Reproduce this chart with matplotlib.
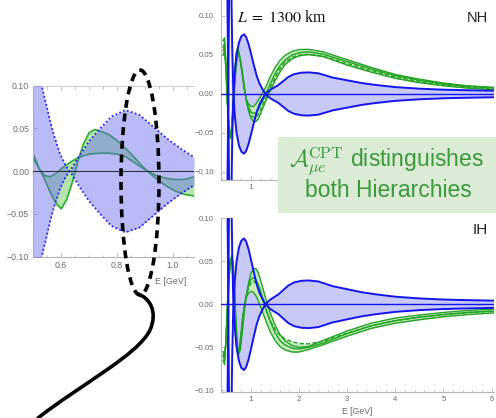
import numpy as np
import matplotlib
matplotlib.use("Agg")
import matplotlib.pyplot as plt
from matplotlib.patches import Ellipse, Rectangle, PathPatch
from matplotlib.path import Path
from matplotlib.ticker import FixedLocator, FixedFormatter, MultipleLocator

plt.rcParams['font.family'] = ['Liberation Sans', 'DejaVu Sans']

# ---------------- data ----------------
# main panels: blue envelope (same in NH and IH)
E_blue = [0.40, 0.46, 0.50, 0.52, 0.535, 0.55, 0.565, 0.58, 0.595, 0.61, 0.63, 0.66,
          0.70, 0.75, 0.80, 0.855, 0.90, 0.95, 1.00, 1.06, 1.12, 1.18, 1.25, 1.30,
          1.40, 1.50, 1.57, 1.68, 1.78, 1.90, 2.05, 2.20, 2.40, 2.70, 3.00, 3.30,
          3.60, 4.00, 4.50, 5.00, 5.50, 6.05]
blue_env = [0.25, 0.30, 0.18, 0.06, -0.05, -0.16, -0.22, -0.20, -0.12, -0.06, -0.01, 0.025,
            0.050, 0.066, 0.074, 0.0765, 0.073, 0.064, 0.052, 0.037, 0.023, 0.013, 0.005, 0.0,
            -0.0055, -0.009, -0.0115, -0.017, -0.022, -0.0255, -0.0273, -0.0277, -0.0265, -0.021, -0.0175, -0.014,
            -0.0115, -0.0088, -0.0068, -0.0055, -0.0048, -0.0042]

# main panels: green curves
E_green = [0.42, 0.45, 0.48, 0.51, 0.54, 0.57, 0.60, 0.63, 0.66, 0.69, 0.72, 0.75, 0.78,
           0.82, 0.86, 0.90, 0.95, 1.00, 1.05, 1.10, 1.15, 1.20, 1.26, 1.32, 1.40, 1.50,
           1.60, 1.70, 1.85, 2.00, 2.20, 2.50, 3.00, 3.50, 4.00, 4.50, 5.00, 5.50, 6.05]

nh_hi = [0.068, 0.072, 0.040, -0.008, -0.042, -0.054, -0.040, -0.008, 0.028, 0.052, 0.0585, 0.054, 0.042,
         0.024, 0.006, -0.006, -0.013, -0.016, -0.016, -0.013, -0.008, -0.003, 0.003, 0.011, 0.022, 0.034,
         0.043, 0.049, 0.0545, 0.057, 0.0572, 0.054, 0.044, 0.034, 0.025, 0.019, 0.014, 0.0105, 0.0085]
nh_mid = [0.060, 0.065, 0.036, -0.010, -0.044, -0.056, -0.045, -0.016, 0.018, 0.044, 0.054, 0.052, 0.043,
          0.026, 0.008, -0.007, -0.017, -0.023, -0.025, -0.024, -0.020, -0.014, -0.006, 0.002, 0.013, 0.026,
          0.036, 0.043, 0.050, 0.053, 0.054, 0.051, 0.0415, 0.032, 0.0235, 0.0175, 0.013, 0.0098, 0.0076]
nh_lo = [0.050, 0.055, 0.030, -0.012, -0.045, -0.057, -0.050, -0.025, 0.008, 0.035, 0.048, 0.050, 0.044,
         0.028, 0.010, -0.008, -0.022, -0.031, -0.035, -0.0355, -0.032, -0.025, -0.016, -0.007, 0.004, 0.017,
         0.028, 0.037, 0.045, 0.049, 0.0505, 0.048, 0.037, 0.028, 0.020, 0.0145, 0.0105, 0.0075, 0.0055]
nh_dash = [0.055, 0.060, 0.033, -0.011, -0.044, -0.056, -0.047, -0.020, 0.013, 0.040, 0.051, 0.051, 0.043,
           0.027, 0.009, -0.008, -0.019, -0.027, -0.030, -0.030, -0.026, -0.020, -0.011, -0.003, 0.008, 0.021,
           0.032, 0.040, 0.047, 0.050, 0.051, 0.0485, 0.039, 0.030, 0.0218, 0.016, 0.0118, 0.0088, 0.0066]

ih_hi = [-0.055, -0.060, -0.045, -0.010, 0.025, 0.048, 0.057, 0.048, 0.020, -0.020, -0.048, -0.058, -0.052,
         -0.032, -0.010, 0.008, 0.025, 0.036, 0.041, 0.0415, 0.037, 0.028, 0.016, 0.004, -0.010, -0.024,
         -0.035, -0.042, -0.048, -0.050, -0.049, -0.042, -0.031, -0.022, -0.016, -0.0125, -0.0095, -0.0072, -0.0055]
ih_mid = [-0.060, -0.065, -0.043, -0.005, 0.030, 0.050, 0.055, 0.040, 0.008, -0.030, -0.053, -0.057, -0.046,
          -0.024, -0.005, 0.010, 0.022, 0.029, 0.031, 0.029, 0.023, 0.015, 0.004, -0.007, -0.020, -0.033,
          -0.042, -0.047, -0.051, -0.052, -0.050, -0.045, -0.034, -0.025, -0.019, -0.015, -0.012, -0.0095, -0.0078]
ih_lo = [-0.065, -0.070, -0.040, 0.000, 0.035, 0.052, 0.050, 0.028, -0.008, -0.042, -0.057, -0.055, -0.040,
         -0.018, -0.002, 0.008, 0.013, 0.015, 0.014, 0.010, 0.004, -0.003, -0.012, -0.021, -0.032, -0.042,
         -0.049, -0.053, -0.0555, -0.0555, -0.0525, -0.047, -0.037, -0.028, -0.022, -0.018, -0.0145, -0.012, -0.010]
ih_dash = [-0.058, -0.063, -0.042, -0.004, 0.030, 0.050, 0.054, 0.038, 0.005, -0.032, -0.054, -0.056, -0.044,
           -0.022, -0.004, 0.009, 0.019, 0.025, 0.027, 0.025, 0.020, 0.012, 0.002, -0.008, -0.019, -0.029,
           -0.036, -0.040, -0.0435, -0.0455, -0.046, -0.043, -0.0335, -0.025, -0.019, -0.015, -0.012, -0.0097, -0.008]

# inset (zoom) panel
E_in_b = [0.50, 0.515, 0.53, 0.545, 0.56, 0.575, 0.595, 0.615, 0.635, 0.665, 0.70, 0.74, 0.78,
          0.83, 0.88, 0.93, 0.98, 1.03, 1.076]
in_blue = [0.140, 0.118, 0.100, 0.080, 0.059, 0.041, 0.021, 0.007, -0.002, -0.018, -0.035, -0.050, -0.064,
           -0.0715, -0.066, -0.052, -0.038, -0.026, -0.0164]
E_in_g = [0.50, 0.52, 0.54, 0.56, 0.58, 0.60, 0.62, 0.64, 0.66, 0.68, 0.70, 0.72, 0.74, 0.77,
          0.80, 0.83, 0.86, 0.89, 0.92, 0.95, 0.98, 1.01, 1.04, 1.076]
in_g1 = [0.020, 0.004, -0.009, -0.024, -0.037, -0.044, -0.033, -0.013, 0.012, 0.032, 0.045, 0.0487, 0.047, 0.043,
         0.036, 0.027, 0.017, 0.006, -0.003, -0.0115, -0.018, -0.0235, -0.027, -0.029]
in_g2 = [0.015, 0.003, -0.005, -0.0065, -0.003, 0.003, 0.0075, 0.012, 0.0155, 0.018, 0.0198, 0.0207, 0.021, 0.021,
         0.020, 0.017, 0.0105, 0.004, -0.002, -0.006, -0.0085, -0.0097, -0.0097, -0.0068]

main_yticks = [-0.10, -0.05, 0.00, 0.05, 0.10]
main_yticklabels = ['\u22120.10', '\u22120.05', '0.00', '0.05', '0.10']
main_xticks = [1, 2, 3, 4, 5, 6]
main_xticklabels = ['1', '2', '3', '4', '5', '6']
in_xticks = [0.6, 0.8, 1.0]
in_xticklabels = ['0.6', '0.8', '1.0']

# ---------------- figure ----------------
W, H = 496, 418
fig = plt.figure(figsize=(W / 100, H / 100), dpi=100)


def ax_px(x0, y0, x1, y1):
    return fig.add_axes([x0 / W, 1 - y1 / H, (x1 - x0) / W, (y1 - y0) / H])


BLUE = '#1414ee'
GREEN = '#22a322'
SPINE = '#b5b5b5'
TICKLBL = '#6a6a6a'


def style(ax, labelsize, ypad, xpad):
    for s in ['top', 'right']:
        ax.spines[s].set_visible(False)
    for s in ['left', 'bottom']:
        ax.spines[s].set_color(SPINE)
        ax.spines[s].set_linewidth(0.8)
    ax.tick_params(which='both', direction='in', color=SPINE, labelcolor=TICKLBL,
                   labelsize=labelsize, width=0.6)
    ax.tick_params(which='major', length=3)
    ax.tick_params(which='minor', length=1.8)
    ax.tick_params(axis='y', pad=ypad)
    ax.tick_params(axis='x', pad=xpad)


def main_panel(ax, ylim, hi, mid, lo, dash, xlabels):
    ax.set_xlim(0.377, 6.05)
    ax.set_ylim(*ylim)
    ax.patch.set_alpha(0)
    be = np.array(blue_env)
    # like the original, no filling where the curve leaves the plot range
    be_in = np.where(np.abs(be) <= ylim[1], be, np.nan)
    ax.fill_between(E_blue, be_in, -be_in, color='#c9c9f9', lw=0, zorder=1)
    gs = np.array([hi, mid, lo, dash])
    ax.fill_between(E_green, gs.min(0), gs.max(0), color='#c3e9be', lw=0, zorder=2)
    for g in (hi, mid, lo):
        ax.plot(E_green, g, color=GREEN, lw=1.0, zorder=3, solid_joinstyle='round')
    ax.plot(E_green, dash, color=GREEN, lw=1.0, ls=(0, (3, 1.6)), zorder=3)
    ax.plot(E_blue, be, color=BLUE, lw=1.4, zorder=4, solid_joinstyle='round')
    ax.plot(E_blue, -be, color=BLUE, lw=1.4, zorder=4, solid_joinstyle='round')
    ax.axhline(0, color=BLUE, lw=1.0, zorder=4)
    ax.yaxis.set_major_locator(FixedLocator(main_yticks))
    ax.yaxis.set_major_formatter(FixedFormatter(main_yticklabels))
    ax.xaxis.set_major_locator(FixedLocator(main_xticks))
    ax.xaxis.set_major_formatter(FixedFormatter(xlabels))
    ax.xaxis.set_minor_locator(MultipleLocator(0.2))
    style(ax, 5.6, 5, 3)


# upper panel: only "1" is visible, the rest lies under the annotation box
ax_nh = ax_px(221, 0, 494, 180)
main_panel(ax_nh, (-0.1103, 0.1205), nh_hi, nh_mid, nh_lo, nh_dash,
           [main_xticklabels[0]] + [''] * 5)

ax_ih = ax_px(221, 218, 494, 391.5)
main_panel(ax_ih, (-0.1014, 0.1003), ih_hi, ih_mid, ih_lo, ih_dash, main_xticklabels)
ax_ih.set_xlabel('E [GeV]', fontsize=6.2, color=TICKLBL, labelpad=3)

# inset
ax_in = ax_px(33.3, 85.7, 194, 256.7)
ax_in.set_xlim(0.5, 1.076)
ax_in.set_ylim(-0.1, 0.1)
ax_in.patch.set_alpha(0)
ax_in.fill_between(E_in_g, in_g1, in_g2, color='#b4e4ac', lw=0, zorder=1)
ax_in.plot(E_in_g, in_g1, color='#2aae2a', lw=1.2, zorder=2)
ax_in.plot(E_in_g, in_g2, color='#2aae2a', lw=1.2, zorder=2)
ib = np.array(in_blue)
ax_in.fill_between(E_in_b, ib, -ib, color=(0.40, 0.40, 0.95), alpha=0.45, lw=0, zorder=3)
ax_in.plot(E_in_b, ib, color='#2323ff', lw=1.3, ls=(0, (1, 1.3)), zorder=4)
ax_in.plot(E_in_b, -ib, color='#2323ff', lw=1.3, ls=(0, (1, 1.3)), zorder=4)
ax_in.axhline(0, color='#303040', lw=0.8, zorder=5)
ax_in.yaxis.set_major_locator(FixedLocator(main_yticks))
ax_in.yaxis.set_major_formatter(FixedFormatter(main_yticklabels))
ax_in.xaxis.set_major_locator(FixedLocator(in_xticks))
ax_in.xaxis.set_major_formatter(FixedFormatter(in_xticklabels))
ax_in.xaxis.set_minor_locator(MultipleLocator(0.05))
style(ax_in, 6.3, 3, 3)
ax_in.spines['top'].set_visible(True)
ax_in.spines['top'].set_color('#d0d0d0')
ax_in.spines['top'].set_linewidth(0.8)
ax_in.tick_params(axis='x', which='both', top=True)

# overlay: annotation box, texts, magnifier
ov = fig.add_axes([0, 0, 1, 1])
ov.set_xlim(0, W)
ov.set_ylim(H, 0)
ov.axis('off')
ov.patch.set_alpha(0)

ov.add_patch(Rectangle((278, 137.3), 218, 75.7, facecolor='#dbebd6', edgecolor='none', zorder=1))
ov.text(386.5, 166.7, r'$\mathcal{A}_{\mu e}^{\rm CPT}$ distinguishes', ha='center', va='baseline',
        fontsize=16.5, color='#3a9a3a', math_fontfamily='cm', zorder=2)
ov.text(388, 196.7, 'both Hierarchies', ha='center', va='baseline', fontsize=16.5, color='#3a9a3a', zorder=2)

ov.text(237, 22, r'$L\;=\;1300$ km', ha='left', va='baseline', fontsize=11.5,
        family='Liberation Serif', math_fontfamily='stix', color='#111111')
ov.text(488, 21.7, 'NH', ha='right', va='baseline', fontsize=10.5, color='#222222')
ov.text(488, 234, 'IH', ha='right', va='baseline', fontsize=11, color='#222222')
ov.text(171, 281, 'E [GeV]', ha='center', va='center', fontsize=6.4, color=TICKLBL)

ov.add_patch(Ellipse((140, 182.5), 38, 225, fill=False, edgecolor='black', lw=2.6,
                     ls=(0, (2.2, 1.6)), zorder=5))
verts = [(138, 294), (150, 298), (158, 312), (150, 330),
         (138, 355), (80, 385), (38, 418)]
codes = [Path.MOVETO, Path.CURVE4, Path.CURVE4, Path.CURVE4,
         Path.CURVE4, Path.CURVE4, Path.CURVE4]
ov.add_patch(PathPatch(Path(verts, codes), fill=False, edgecolor='black', lw=2.6,
                       capstyle='round', zorder=5))

fig.savefig('out.png', dpi=100)
